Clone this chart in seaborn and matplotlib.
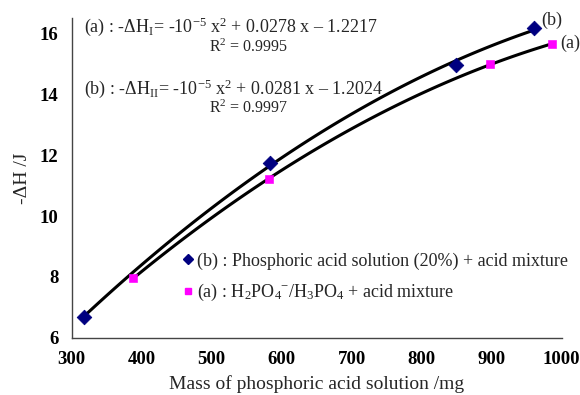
import numpy as np
import pandas as pd
import matplotlib
matplotlib.use("Agg")
import matplotlib.pyplot as plt
import seaborn as sns
from matplotlib.lines import Line2D

# Data
mass_b = [318, 584, 849, 961]
dh_b = [6.69, 11.74, 14.98, 16.19]
mass_a = [388, 582, 898, 986]
dh_a = [7.96, 11.22, 15.01, 15.64]

eq_a = r"(a) : -ΔH$_{\mathrm{I}}$= -10$^{\mathrm{-5}}$ x$^{\mathrm{2}}$ + 0.0278 x – 1.2217"
eq_b = r"(b) : -ΔH$_{\mathrm{II}}$= -10$^{\mathrm{-5}}$ x$^{\mathrm{2}}$ + 0.0281 x – 1.2024"
r2_a = r"R$^{\mathrm{2}}$ = 0.9995"
r2_b = r"R$^{\mathrm{2}}$ = 0.9997"
label_b = "(b) : Phosphoric acid solution (20%) + acid mixture"
label_a = r"(a) : H$_{\mathrm{2}}$PO$_{\mathrm{4}}$$^{\mathrm{-}}$/H$_{\mathrm{3}}$PO$_{\mathrm{4}}$ + acid mixture"
xticks = [300, 400, 500, 600, 700, 800, 900, 1000]
yticks = [6, 8, 10, 12, 14, 16]

sns.set_style("white")
plt.rcParams['font.family'] = ['Liberation Serif', 'DejaVu Serif']
plt.rcParams['mathtext.fontset'] = 'custom'
plt.rcParams['mathtext.rm'] = 'Liberation Serif'
plt.rcParams['mathtext.it'] = 'Liberation Serif:italic'
plt.rcParams['mathtext.bf'] = 'Liberation Serif:bold'

fig = plt.figure(figsize=(5.8, 3.95), dpi=100)
ax = fig.add_axes([0.1236, 0.145, 0.8448, 0.8087])

df_b = pd.DataFrame({"m": mass_b, "h": dh_b})
df_a = pd.DataFrame({"m": mass_a, "h": dh_a})

# quadratic trend lines fitted to the data
for df in (df_b, df_a):
    c = np.polyfit(df["m"], df["h"], 2)
    xs = np.linspace(df["m"].min(), df["m"].max(), 100)
    sns.lineplot(x=xs, y=np.polyval(c, xs), ax=ax, color="black", lw=2.2)

sns.scatterplot(data=df_b, x="m", y="h", ax=ax, marker="D", color="#000080",
                s=55, edgecolor="#000080", zorder=5)
sns.scatterplot(data=df_a, x="m", y="h", ax=ax, marker="s", color="#ff00ff",
                s=30, edgecolor="#ff00ff", zorder=5)

ax.set_xlim(300, 1000)
ax.set_ylim(6, 16.5)
ax.set_xticks(xticks)
ax.set_yticks(yticks)
for s in ("top", "right"):
    ax.spines[s].set_visible(False)
for s in ("left", "bottom"):
    ax.spines[s].set_color("#444444")
    ax.spines[s].set_linewidth(1.0)
ax.tick_params(axis="both", direction="out", length=6, width=1, colors="#444444",
               labelcolor="black", labelsize=13.5)
for lab in ax.get_xticklabels() + ax.get_yticklabels():
    lab.set_fontweight("bold")

ax.set_xlabel("Mass of phosphoric acid solution /mg", fontsize=14, labelpad=5)
ax.set_ylabel("-ΔH /J", fontsize=14, labelpad=6)

ax.text(0.025, 0.972, eq_a, transform=ax.transAxes, fontsize=13, va="center", ha="left")
ax.text(0.28, 0.91, r2_a, transform=ax.transAxes, fontsize=11.5, va="center", ha="left")
ax.text(0.025, 0.778, eq_b, transform=ax.transAxes, fontsize=13, va="center", ha="left")
ax.text(0.28, 0.718, r2_b, transform=ax.transAxes, fontsize=11.5, va="center", ha="left")

ax.text(mass_b[-1] + 10, dh_b[-1] + 0.25, "(b)", fontsize=13, ha="left", va="center")
ax.text(mass_a[-1] + 12, dh_a[-1] + 0.05, "(a)", fontsize=13, ha="left", va="center")

handles = [Line2D([], [], ls="", marker="D", color="#000080", markersize=5),
           Line2D([], [], ls="", marker="s", color="#ff00ff", markersize=5)]
ax.legend(handles, [label_b, label_a], loc="upper left", bbox_to_anchor=(0.213, 0.29),
          frameon=False, fontsize=13, handlelength=0.5, handletextpad=0.25,
          labelspacing=0.7, borderaxespad=0)

fig.savefig("out.png", dpi=100)
